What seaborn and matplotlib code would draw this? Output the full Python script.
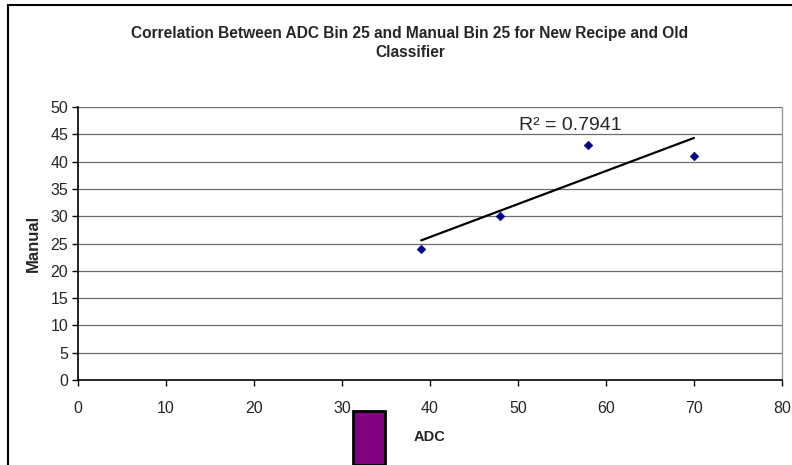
import matplotlib
matplotlib.use("Agg")
import matplotlib.pyplot as plt
from matplotlib.lines import Line2D
from matplotlib.patches import Rectangle
import pandas as pd
import seaborn as sns

# Bin 25 counts: ADC classifier vs manual review
adc = [39, 48, 58, 70]
manual = [24, 30, 43, 41]
r_squared_label = "0.7941"

title = "Correlation Between ADC Bin 25 and Manual Bin 25 for New Recipe and Old\nClassifier"
x_ticks = [0, 10, 20, 30, 40, 50, 60, 70, 80]
y_ticks = [0, 5, 10, 15, 20, 25, 30, 35, 40, 45, 50]

df = pd.DataFrame({"ADC": adc, "Manual": manual})

sns.set_style("white")
plt.rcParams["font.family"] = ["Liberation Sans", "DejaVu Sans"]

fig = plt.figure(figsize=(7.92, 4.65), dpi=100)
ax = fig.add_axes([78 / 792, 1 - 380 / 465, (782 - 78) / 792, (380 - 107) / 465])

# horizontal gridlines
for yv in y_ticks[1:]:
    ax.axhline(yv, color="#6e6e6e", lw=0.9, zorder=0)

# linear trendline across the data range
sns.regplot(data=df, x="ADC", y="Manual", ax=ax, scatter=False, ci=None,
            truncate=True, color="black", line_kws={"lw": 1.6, "zorder": 3})

sns.scatterplot(data=df, x="ADC", y="Manual", ax=ax, marker="D", s=20,
                color="#000080", edgecolor="#000080", zorder=4)

ax.set_xlim(0, 80)
ax.set_ylim(0, 50)
ax.set_xticks(x_ticks)
ax.set_yticks(y_ticks)
ax.set_xticklabels([str(v) for v in x_ticks], fontsize=11.5)
ax.set_yticklabels([str(v) for v in y_ticks], fontsize=11.5)
ax.tick_params(axis="both", direction="out", length=4, width=1, color="black",
               bottom=True, left=True, pad=3)
ax.tick_params(axis="x", pad=11)

for side in ("left", "bottom"):
    ax.spines[side].set_color("black")
    ax.spines[side].set_linewidth(1.2)
ax.spines["top"].set_visible(False)
ax.spines["right"].set_color("#999999")
ax.spines["right"].set_linewidth(1.0)

ax.set_xlabel("ADC", fontsize=10.5, fontweight="bold")
ax.set_ylabel("Manual", fontsize=12, fontweight="bold")
ax.xaxis.set_label_coords(0.5, -(437 - 380) / 273)
ax.xaxis.label.set_va("center")
ax.yaxis.set_label_coords(-(78 - 33) / 704, 0.5)
ax.yaxis.label.set_va("center")

ax.text((570 - 78) / 704, (380 - 125) / 273, "R\u00b2 = " + r_squared_label,
        transform=ax.transAxes, ha="center", va="center", fontsize=14)

fig.text(410 / 792, 1 - 43 / 465, title, ha="center", va="center",
         fontsize=11.2, fontweight="bold", linespacing=1.4)

# outer chart frame (left and top edges)
fig.add_artist(Line2D([8 / 792, 8 / 792], [0, 1 - 5 / 465], transform=fig.transFigure,
                      color="black", lw=1.5))
fig.add_artist(Line2D([8 / 792, 1], [1 - 5 / 465, 1 - 5 / 465], transform=fig.transFigure,
                      color="black", lw=1.5))

# legend key swatch
fig.add_artist(Rectangle((353 / 792, 0), 32 / 792, (465 - 411) / 465,
                         transform=fig.transFigure, facecolor="#800080",
                         edgecolor="black", lw=2))

fig.savefig("out.png", dpi=100)
